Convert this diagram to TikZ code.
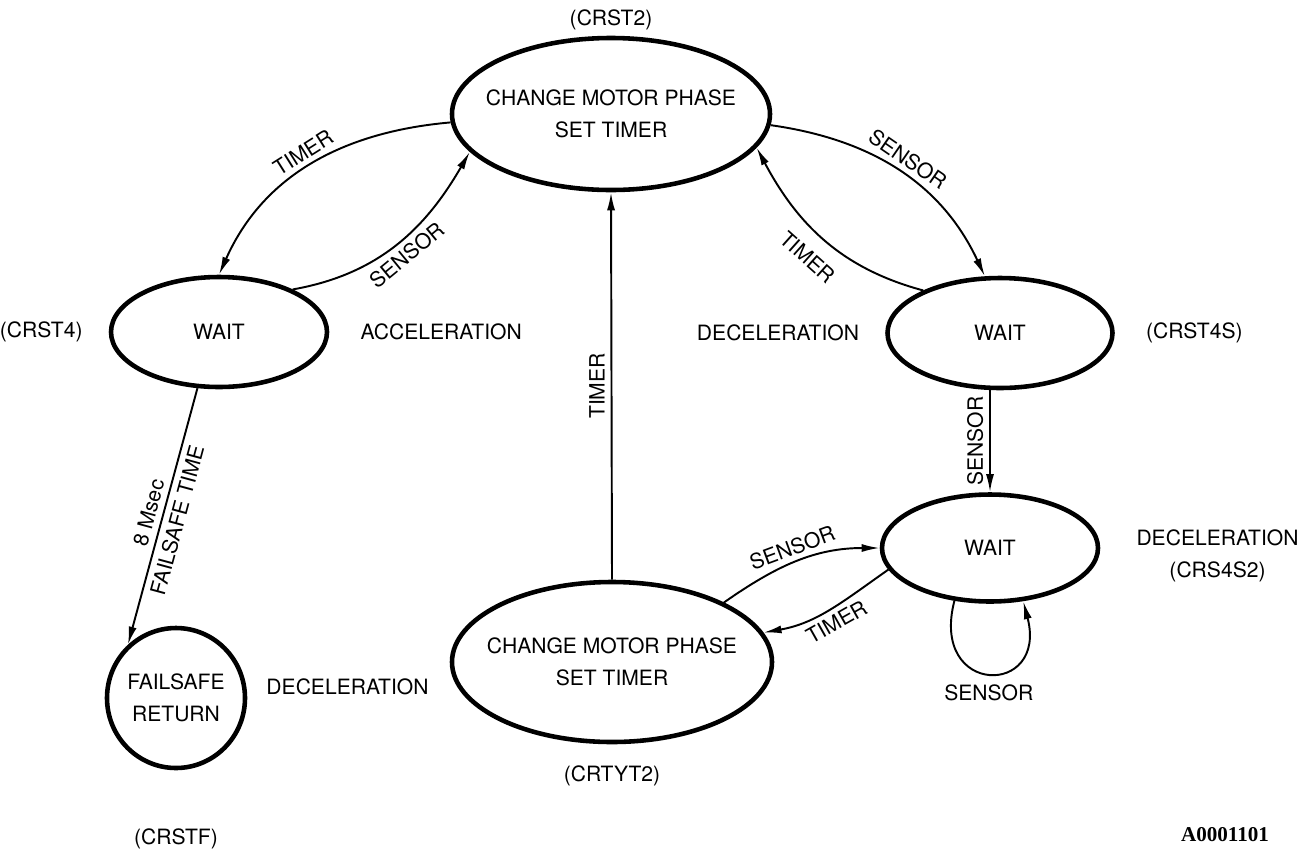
\documentclass[tikz,border=0pt]{standalone}
\usepackage{fontspec}
\setmainfont{TeX Gyre Heros}
\newfontfamily\serialfont{Liberation Serif}
\usetikzlibrary{arrows.meta,positioning,shapes.geometric}

\begin{document}
\begin{tikzpicture}[
    x=0.2mm, y=0.2mm, font=\large,
    state/.style={ellipse, draw, line width=2.6pt, inner sep=0pt},
    inside/.style={align=center},
    arrow/.style={-{Latex[length=3.6mm,width=1.6mm]}, line width=1.1pt}
]
\useasboundingbox (0,0) rectangle (1299,-855);

\node[state, minimum width=63.6mm, minimum height=30.4mm,
      label={[inside]center:{CHANGE MOTOR PHASE\\[4pt]SET TIMER}}] (crst2) at (611,-114) {};
\node[state, minimum width=43.2mm, minimum height=22mm,
      label={center:WAIT}] (crst4) at (219,-332) {};
\node[state, minimum width=45mm, minimum height=22mm,
      label={center:WAIT}] (crst4s) at (1000,-333) {};
\node[state, minimum width=43.2mm, minimum height=21.4mm,
      label={center:WAIT}] (crs4s2) at (990,-548) {};
\node[state, minimum width=64mm, minimum height=32mm,
      label={[inside]center:{CHANGE MOTOR PHASE\\[4pt]SET TIMER}}] (crtyt2) at (612,-662) {};
\node[state, minimum width=27.6mm, minimum height=28mm,
      label={[inside]center:{FAILSAFE\\[4pt]RETURN}}] (crstf) at (176,-698) {};

\node[above=0mm of crst2] (name2) {(CRST2)};
\node[left=4mm of crst4] (name4) {(CRST4)};
\node[right=5mm of crst4] (accel) {ACCELERATION};
\node[left=4mm of crst4s] (decel1) {DECELERATION};
\node[right=5mm of crst4s] (name4s) {(CRST4S)};
\node[right=6mm of crs4s2, yshift=-1.6mm, inside] (decel2) {DECELERATION\\[4pt](CRS4S2)};
\node[left=3mm of crtyt2, yshift=-5mm] (decel3) {DECELERATION};
\node[below=3mm of crtyt2] (nameyt2) {(CRTYT2)};
\node[below=10.4mm of crstf] (namef) {(CRSTF)};
\node[font=\serialfont\bfseries\large] (serial) at (1225,-835) {A0001101};

\draw[arrow] (crst2.183) to[out=185, in=66] node[sloped, above] {TIMER} (crst4.north);
\draw[arrow] (crst4.30) to[out=10, in=240] node[sloped, below] {SENSOR} (crst2.195);
\draw[arrow] (crst2.356) to[out=-8, in=115] node[sloped, above] {SENSOR} (crst4s.105);
\draw[arrow] (crst4s.151) to[out=165, in=298] node[sloped, below=2mm] {TIMER} (crst2.347);
\draw[arrow] (crs4s2.north |- crst4s.south) -- node[rotate=90, above] {SENSOR} (crs4s2.north);
\draw[arrow] (crtyt2.north) -- node[rotate=90, above] {TIMER} (crst2.south);
\draw[arrow] (crtyt2.28) to[out=35, in=180] node[sloped, above] {SENSOR} (crs4s2.west);
\draw[arrow] (crs4s2.192) to[out=215, in=10] node[sloped, below] {TIMER} (crtyt2.11);
\draw[arrow] (crs4s2.236) .. controls +(-25,-96) and +(25,-96) .. node[below=1mm] {SENSOR} (crs4s2.302);
\draw[arrow] (crst4.249) -- node[sloped, above] {8 Msec} node[sloped, below] {FAILSAFE TIME} (crstf.132);
\end{tikzpicture}
\end{document}
